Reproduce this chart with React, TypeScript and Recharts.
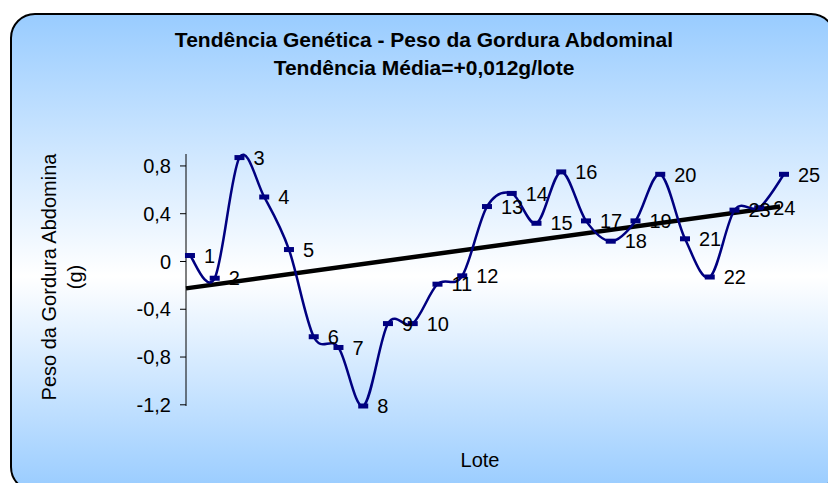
import React from "react";
import { LineChart, Line, XAxis, YAxis, ReferenceLine, LabelList } from "recharts";

const lotes = [1, 2, 3, 4, 5, 6, 7, 8, 9, 10, 11, 12, 13, 14, 15, 16, 17, 18, 19, 20, 21, 22, 23, 24, 25];
const pesoGordura = [
    0.05, -0.14, 0.87, 0.54, 0.1, -0.63, -0.72, -1.21, -0.52, -0.52, -0.19, -0.12, 0.46, 0.57,
    0.32, 0.75, 0.34, 0.17, 0.34, 0.73, 0.19, -0.13, 0.43, 0.45, 0.73,
];
const yTicks = [-1.2, -0.8, -0.4, 0, 0.4, 0.8];
// linha de tendência (extremos)
const trendX = [0.84, 24.84];
const trendY = [-0.225, 0.46];

const titulo1 = "Tendência Genética - Peso da Gordura Abdominal";
const titulo2 = "Tendência Média=+0,012g/lote";
const eixoY1 = "Peso da Gordura Abdomina";
const eixoY2 = "(g)";
const eixoX = "Lote";

const data = lotes.map((lote, i) => ({ lote, peso: pesoGordura[i] }));

const FONT = '"Liberation Sans", Arial, sans-serif';
const NAVY = "#000080";

// suavização tipo Excel (Catmull-Rom -> Bezier)
function excelSmooth(context: any) {
    let pts: number[][] = [];
    return {
        areaStart() {},
        areaEnd() {},
        lineStart() {
            pts = [];
        },
        point(x: number, y: number) {
            pts.push([+x, +y]);
        },
        lineEnd() {
            if (!pts.length) return;
            context.moveTo(pts[0][0], pts[0][1]);
            for (let i = 0; i < pts.length - 1; i++) {
                const p0 = pts[i - 1] || pts[i];
                const p1 = pts[i];
                const p2 = pts[i + 1];
                const p3 = pts[i + 2] || p2;
                context.bezierCurveTo(
                    p1[0] + (p2[0] - p0[0]) / 6,
                    p1[1] + (p2[1] - p0[1]) / 6,
                    p2[0] - (p3[0] - p1[0]) / 6,
                    p2[1] - (p3[1] - p1[1]) / 6,
                    p2[0],
                    p2[1]
                );
            }
        },
    };
}

const DashDot = (props: any) => {
    const { cx, cy, index } = props;
    return <rect key={`d-${index}`} x={cx - 5} y={cy - 2.5} width={10} height={5} fill={NAVY} />;
};

const PointLabel = (props: any) => {
    const { x, y, value } = props;
    return (
        <text x={x + 14} y={y} dy="0.36em" fontSize={20} fontFamily={FONT} fill="#000">
            {value}
        </text>
    );
};

export default function App() {
    return (
        <div style={{ position: "absolute", left: 0, top: 0, width: 828, height: 483, overflow: "hidden" }}>
            <div
                style={{
                    position: "absolute",
                    left: 10,
                    top: 13,
                    width: 822,
                    height: 475,
                    border: "2px solid #000",
                    borderRadius: 25,
                    background: "linear-gradient(to bottom, #99ccff 0%, #ffffff 55%, #99ccff 100%)",
                }}
            />
            <div style={{ position: "absolute", left: 0, top: 0 }}>
                <LineChart width={828} height={483} data={data} margin={{ top: 154, right: 44, bottom: 77, left: 0 }}>
                    <XAxis dataKey="lote" type="number" domain={[0.84, 25]} hide />
                    <YAxis
                        type="number"
                        domain={[-1.2, 0.9]}
                        ticks={yTicks}
                        width={186}
                        tickSize={6}
                        tickMargin={9}
                        axisLine={{ stroke: "#000", strokeWidth: 1 }}
                        tickLine={{ stroke: "#000", strokeWidth: 1 }}
                        tick={{ fill: "#000", fontSize: 20, fontFamily: FONT }}
                        tickFormatter={(v: number) => String(v).replace(".", ",")}
                    />
                    <ReferenceLine
                        segment={[
                            { x: trendX[0], y: trendY[0] },
                            { x: trendX[1], y: trendY[1] },
                        ]}
                        stroke="#000"
                        strokeWidth={4.5}
                        ifOverflow="visible"
                    />
                    <Line
                        dataKey="peso"
                        type={excelSmooth as any}
                        stroke={NAVY}
                        strokeWidth={2.5}
                        dot={DashDot}
                        activeDot={false}
                        isAnimationActive={false}
                    >
                        <LabelList dataKey="lote" content={PointLabel} />
                    </Line>
                    <text x={424} y={47} textAnchor="middle" fontSize={21} fontWeight="bold" fontFamily={FONT}>
                        {titulo1}
                    </text>
                    <text x={424} y={75} textAnchor="middle" fontSize={21} fontWeight="bold" fontFamily={FONT}>
                        {titulo2}
                    </text>
                    <text x={480} y={467} textAnchor="middle" fontSize={20} fontFamily={FONT}>
                        {eixoX}
                    </text>
                    <text x={56} y={277} textAnchor="middle" fontSize={20} fontFamily={FONT} transform="rotate(-90, 56, 277)">
                        {eixoY1}
                    </text>
                    <text x={82} y={277} textAnchor="middle" fontSize={20} fontFamily={FONT} transform="rotate(-90, 82, 277)">
                        {eixoY2}
                    </text>
                </LineChart>
            </div>
        </div>
    );
}
